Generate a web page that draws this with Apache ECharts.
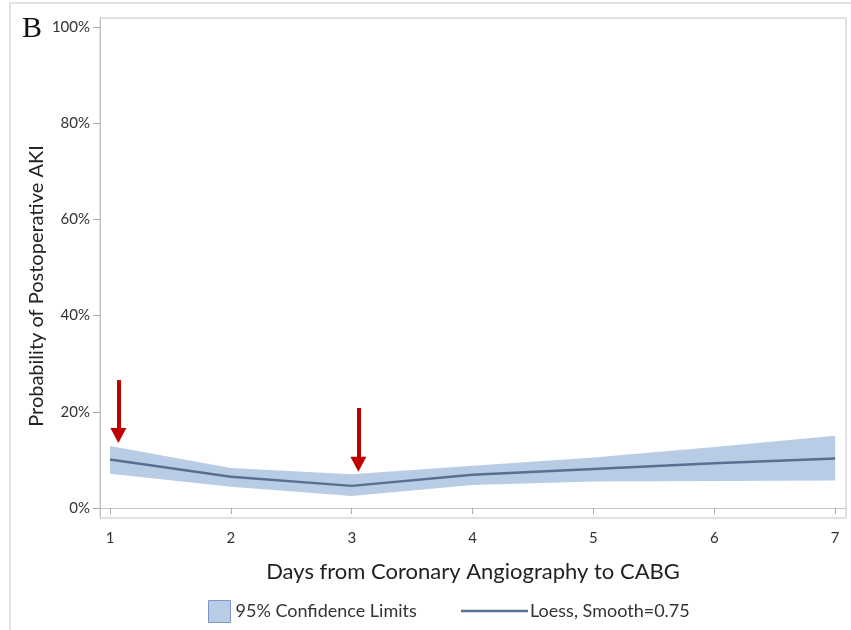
<!DOCTYPE html>
<html>
<head>
<meta charset="utf-8">
<script src="https://cdn.jsdelivr.net/npm/echarts@6/dist/echarts.min.js"></script>
<style>
  html, body { margin: 0; padding: 0; background: #fff; }
  #chart { width: 851px; height: 630px; }
</style>
</head>
<body>
<div id="chart"></div>
<script>
var days = [1, 2, 3, 4, 5, 6, 7];
var loess = [10.1, 6.5, 4.6, 6.9, 8.1, 9.3, 10.3];
var upper = [12.9, 8.3, 7.0, 8.8, 10.5, 12.7, 15.0];
var lower = [7.1, 4.4, 2.5, 4.8, 5.5, 5.6, 5.7];
var xTicks = [1, 2, 3, 4, 5, 6, 7];
var yTicks = [0, 20, 40, 60, 80, 100];
// arrows: [day, start %, end %]
var arrows = [[1.069, 26.6, 15.1], [3.055, 20.8, 9.1]];

var chart = echarts.init(document.getElementById('chart'));
var font = 'Lato, "Open Sans", sans-serif';

var bandData = days.map(function (d, i) { return [d, lower[i], upper[i]]; });
var loessData = days.map(function (d, i) { return [d, loess[i]]; });
var arrowLines = arrows.map(function (a) {
  return [{ coord: [a[0], a[1]] }, { coord: [a[0], a[2]] }];
});

// band polygon: upper edge left to right, then lower edge back
function renderBand(params, api) {
  if (params.dataIndex !== 0) return null;
  var pts = [];
  for (var i = 0; i < days.length; i++) pts.push(api.coord([days[i], upper[i]]));
  for (var j = days.length - 1; j >= 0; j--) pts.push(api.coord([days[j], lower[j]]));
  return {
    type: 'polygon',
    shape: { points: pts },
    style: { fill: '#b9cce5' }
  };
}

var option = {
  animation: false,
  textStyle: { fontFamily: font },
  grid: {
    left: 100, top: 18, right: 5, bottom: 112,
    show: true, borderColor: '#c4c4c4', borderWidth: 1
  },
  graphic: [
    {
      type: 'rect', silent: true,
      shape: { x: 10, y: 3, width: 900, height: 700 },
      style: { fill: 'none', stroke: '#e2e2e2', lineWidth: 2 }
    },
    {
      type: 'text', left: 22, top: 14,
      style: { text: 'B', font: '30px "Liberation Serif", "DejaVu Serif", serif', fill: '#111' }
    },
    {
      type: 'text', x: 37, y: 286, rotation: Math.PI / 2,
      style: {
        text: 'Probability of Postoperative AKI',
        font: '20px ' + font, fill: '#222',
        align: 'center', verticalAlign: 'middle'
      }
    }
  ],
  legend: [
    {
      left: 203, top: 595, itemWidth: 22, itemHeight: 22, icon: 'rect',
      data: ['95% Confidence Limits'],
      itemStyle: { borderColor: '#7d98c4', borderWidth: 1 },
      textStyle: { fontSize: 18, color: '#333', fontFamily: font }
    },
    {
      left: 456, top: 597, itemWidth: 67, itemHeight: 2.5, icon: 'rect',
      data: ['Loess, Smooth=0.75'],
      textStyle: { fontSize: 18, color: '#333', fontFamily: font, padding: [0, 0, 0, -3] }
    }
  ],
  xAxis: {
    type: 'value', min: 0.917, max: 7.09,
    name: 'Days from Coronary Angiography to CABG',
    nameLocation: 'middle', nameGap: 43,
    nameTextStyle: { fontSize: 22, color: '#222', fontFamily: font },
    axisLine: { show: true, lineStyle: { color: '#c4c4c4', width: 1 } },
    axisTick: { show: true, length: 6, customValues: xTicks, lineStyle: { color: '#aaa' } },
    axisLabel: { customValues: xTicks, margin: 13, fontSize: 15, color: '#333', fontFamily: font },
    splitLine: { show: false }
  },
  yAxis: {
    type: 'value', min: -2.08, max: 101.9,
    axisLine: { show: true, lineStyle: { color: '#c4c4c4', width: 1 } },
    axisTick: { show: true, length: 7, customValues: yTicks, lineStyle: { color: '#aaa' } },
    axisLabel: {
      customValues: yTicks, margin: 10, fontSize: 15, color: '#333', fontFamily: font,
      formatter: '{value}%'
    },
    splitLine: { show: false }
  },
  series: [
    {
      name: '95% Confidence Limits', type: 'custom', data: bandData,
      renderItem: renderBand, silent: true,
      encode: { x: 0, y: [1, 2] },
      itemStyle: { color: '#b9cce5' },
      z: 2
    },
    {
      name: 'Loess, Smooth=0.75', type: 'line', data: loessData,
      symbol: 'none',
      itemStyle: { color: '#5b6e8f' },
      lineStyle: { color: '#5b6e8f', width: 2.5 },
      z: 5,
      markLine: {
        silent: true,
        symbol: ['none', 'triangle'],
        symbolSize: [16, 15],
        label: { show: false },
        lineStyle: { color: '#c00000', width: 4, type: 'solid' },
        data: arrowLines
      }
    }
  ]
};

chart.setOption(option);
</script>
</body>
</html>
